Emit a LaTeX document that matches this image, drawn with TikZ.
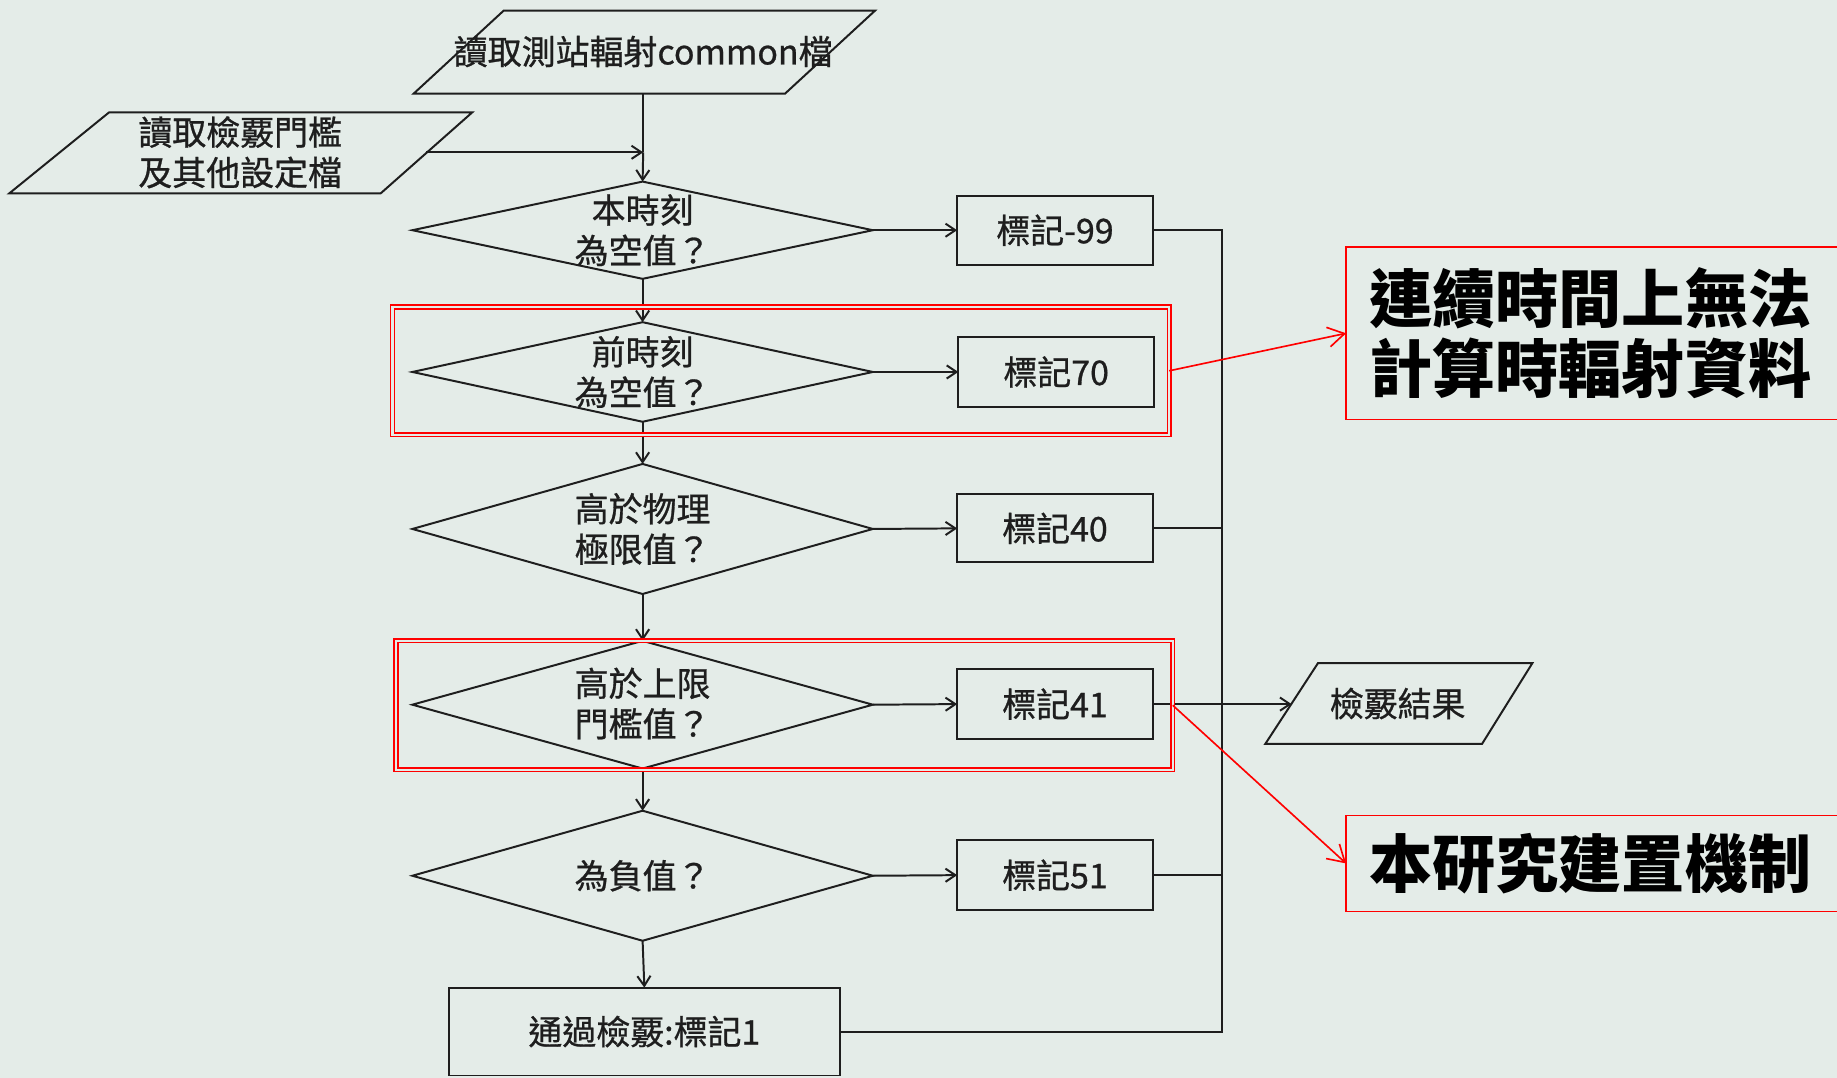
\documentclass[tikz,border=0pt]{standalone}
\usepackage{fontspec}
\newfontfamily\cjk{Noto Sans CJK TC}[FakeBold=0.8]
\newfontfamily\cjkbig{Noto Sans CJK TC}
\usetikzlibrary{shapes.geometric,arrows.meta}
\definecolor{bg}{RGB}{228,236,232}
\definecolor{ink}{RGB}{30,30,30}
\begin{document}
\begin{tikzpicture}[x=0.025cm,y=-0.025cm,line width=1.2pt,draw=ink,
  every node/.style={font=\cjk\fontsize{20.6pt}{24.5pt}\selectfont,text=ink,inner sep=0pt,outer sep=0pt},
  dia/.style={shape=diamond,draw=ink,minimum width=393*0.025cm},
  markbox/.style={shape=rectangle,draw=ink,minimum width=167*0.025cm,minimum height=59*0.025cm},
  redbox/.style={shape=rectangle,draw=red,line width=0.9pt,double=bg,double distance=1.3pt},
  notebox/.style={shape=rectangle,draw=red,line width=0.9pt,anchor=west,minimum width=440*0.025cm,
     align=left,text width=400*0.025cm,inner xsep=19*0.025cm,
     font=\cjkbig\bfseries\fontsize{38.3pt}{42.7pt}\selectfont,text=black},
  arr/.style={-{Straight Barb[length=6pt,width=8pt]}},
  redarr/.style={draw=red,line width=1pt,-{Straight Barb[length=10pt,width=12pt]}}]
\fill[bg] (0,0) rectangle (1568,920);
\useasboundingbox (0,0) rectangle (1568,920);

% input parallelograms
\draw (430,9) -- (747,9) -- (670,80) -- (353,80) -- cycle;
\node (p1t) at (549,44) {讀取測站輻射common檔};
\coordinate (p1b) at (549,80);
\draw (93,96) -- (403,96) -- (325,165) -- (8,165) -- cycle;
\node[align=center] (p2t) at (205,130) {讀取檢覈門檻\\及其他設定檔};
\coordinate (p2r) at (364,130);
\coordinate (join) at (549,130);

% diamonds
\node[dia,minimum height=83*0.025cm] (d1) at (548.5,196.5) {};
\node[align=center] (d1t) at (548.5,196.5) {本時刻\\為空值？};
\node[dia,minimum height=85*0.025cm] (d2) at (548.5,317.5) {};
\node[align=center] (d2t) at (548.5,317.5) {前時刻\\為空值？};
\node[dia,minimum height=111*0.025cm] (d3) at (548.5,451.5) {};
\node[align=center] (d3t) at (548.5,451.5) {高於物理\\極限值？};
\node[dia,minimum height=109*0.025cm] (d4) at (548.5,601.5) {};
\node[align=center] (d4t) at (548.5,600.5) {高於上限\\門檻值？};
\node[dia,minimum height=111*0.025cm] (d5) at (548.5,747.5) {};
\node (d5t) at (548.5,747.5) {為負值？};

% mark boxes
\node[markbox] (b99) at (900.5,196.5) {標記-99};
\node[markbox] (b70) at (901.5,317.5) {標記70};
\node[markbox,minimum height=58*0.025cm] (b40) at (900.5,451) {標記40};
\node[markbox,minimum height=60*0.025cm] (b41) at (900.5,601) {標記41};
\node[markbox,minimum height=60*0.025cm] (b51) at (900.5,747) {標記51};
\node[shape=rectangle,draw=ink,minimum width=334*0.025cm,minimum height=75*0.025cm] (pass) at (550,880.5) {通過檢覈:標記1};

% output parallelogram
\draw (1125,566) -- (1308,566) -- (1265,635) -- (1080,635) -- cycle;
\node (res) at (1193,600.5) {檢覈結果};
\coordinate (resl) at (1102.5,601);

% connectors
\draw (p1b) -- (join);
\draw[arr] (join) -- (d1.north);
\draw[arr] (p2r) -- (join);
\draw[arr] (d1.south) -- (d2.north);
\draw[arr] (d2.south) -- (d3.north);
\draw[arr] (d3.south) -- (d4.north);
\draw[arr] (d4.south) -- (d5.north);
\draw[arr] (d5.south) -- (pass.north);
\draw[arr] (d1.east) -- (b99.west);
\draw[arr] (d2.east) -- (b70.west);
\draw[arr] (d3.east) -- (b40.west);
\draw[arr] (d4.east) -- (b41.west);
\draw[arr] (d5.east) -- (b51.west);
\coordinate (bus1) at (1043,196.5);
\coordinate (bus2) at (1043,880.5);
\draw (b99.east) -- (bus1) -- (bus2) -- (pass.east);
\draw (b40.east) -- (b40.east -| bus1);
\draw (b51.east) -- (b51.east -| bus1);
\draw[arr] (b41.east) -- (resl);

% red highlight boxes
\node[redbox,minimum width=663*0.025cm,minimum height=109*0.025cm] (redA) at (666.5,316.5) {};
\node[redbox,minimum width=663*0.025cm,minimum height=110*0.025cm] (redB) at (669.5,602) {};

% notes
\node[notebox,minimum height=147*0.025cm] (note1) at (1149,284.5) {連續時間上無法\\計算時輻射資料};
\node[notebox,minimum height=82*0.025cm] (note2) at (1149,737) {本研究建置機制};
\draw[redarr] (redA.east) -- (note1.west);
\draw[redarr] (redB.east) -- (note2.west);
\end{tikzpicture}
\end{document}
